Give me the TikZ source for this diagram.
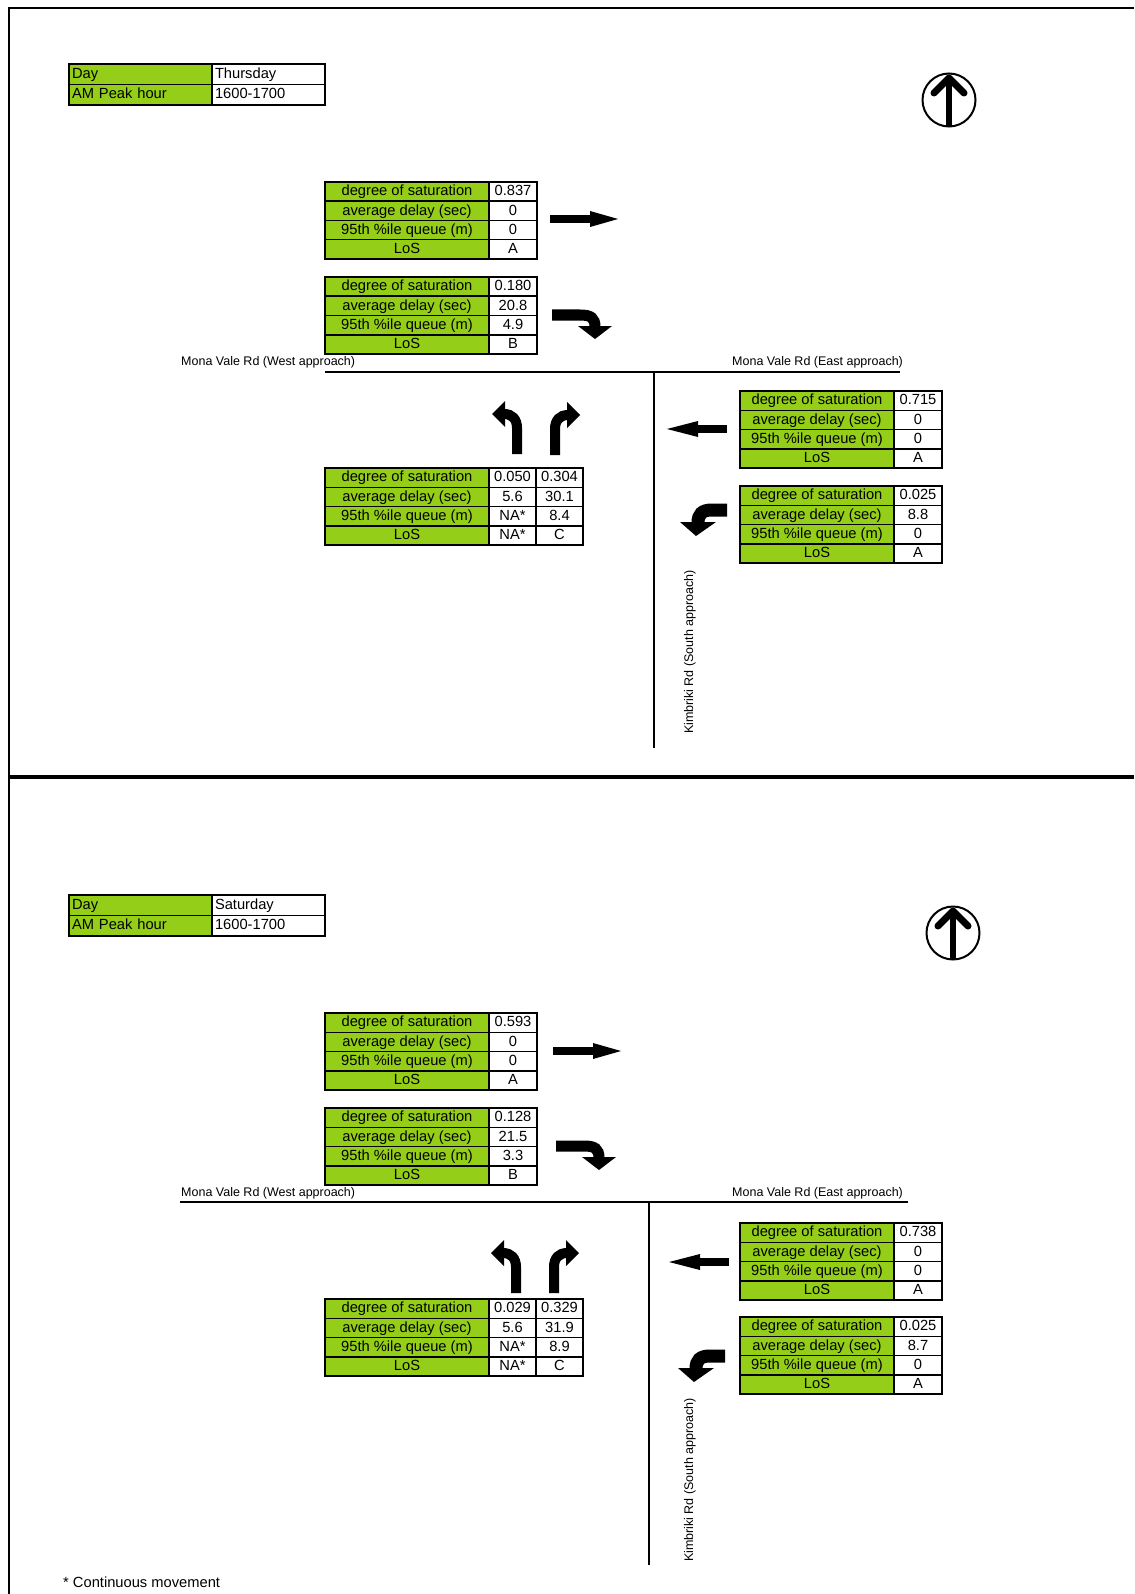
\documentclass[tikz,border=0pt]{standalone}
\usepackage{fontspec}
\setmainfont{Liberation Sans}
\definecolor{cellgreen}{RGB}{148,206,24}
\newcommand{\tabfont}{\fontsize{14.7}{16}\selectfont}
\newcommand{\lblfont}{\fontsize{12.5}{14}\selectfont}
\tikzset{
  cellbase/.style={draw=black, line width=1.5pt, anchor=north west, minimum height=19.25pt, inner sep=0pt, outer sep=0pt, font=\tabfont, text height=10.5pt, text depth=2.2pt},
  gcell/.style={cellbase, fill=cellgreen},
  wcell/.style={cellbase, fill=white, minimum width=48pt},
  w2cell/.style={cellbase, fill=white, minimum width=47pt},
  daycell/.style={draw=black, line width=1.5pt, anchor=north west, minimum height=20.5pt, inner xsep=3pt, inner ysep=0pt, outer sep=0pt, font=\tabfont, text width=#1, align=left, text height=10.5pt, text depth=2.2pt},
  roadlabel/.style={font=\lblfont, inner sep=0pt},
  road/.style={line width=2.6pt},
  frameline/.style={line width=2.5pt},
}
% 4-row movement table with one value column
\newcommand{\movtab}[8]{%
  \node[gcell, minimum width=#4pt] (#1-a) at (#2,#3) {degree of saturation};
  \node[gcell, minimum width=#4pt] (#1-b) at (#2,{#3+19.25}) {average delay (sec)};
  \node[gcell, minimum width=#4pt] (#1-c) at (#2,{#3+38.5}) {95th \%ile queue (m)};
  \node[gcell, minimum width=#4pt] (#1-d) at (#2,{#3+57.75}) {LoS};
  \node[wcell] (#1-va) at ({#2+#4},#3) {#5};
  \node[wcell] (#1-vb) at ({#2+#4},{#3+19.25}) {#6};
  \node[wcell] (#1-vc) at ({#2+#4},{#3+38.5}) {#7};
  \node[wcell] (#1-vd) at ({#2+#4},{#3+57.75}) {#8};
}
% south table, two value columns
\newcommand{\southtab}[3]{%
  \node[gcell, minimum width=164pt] (#1-a) at (325,#2) {degree of saturation};
  \node[gcell, minimum width=164pt] (#1-b) at (325,{#2+19.25}) {average delay (sec)};
  \node[gcell, minimum width=164pt] (#1-c) at (325,{#2+38.5}) {95th \%ile queue (m)};
  \node[gcell, minimum width=164pt] (#1-d) at (325,{#2+57.75}) {LoS};
  \node[w2cell] (#1-la) at (489,#2) {#3};
  \node[w2cell] (#1-lb) at (489,{#2+19.25}) {5.6};
  \node[w2cell] (#1-lc) at (489,{#2+38.5}) {NA*};
  \node[w2cell] (#1-ld) at (489,{#2+57.75}) {NA*};
}
\newcommand{\southright}[5]{%
  \node[w2cell] (#1-ra) at (536,#2) {#3};
  \node[w2cell] (#1-rb) at (536,{#2+19.25}) {#4};
  \node[w2cell] (#1-rc) at (536,{#2+38.5}) {#5};
  \node[w2cell] (#1-rd) at (536,{#2+57.75}) {C};
}
\newcommand{\daytab}[3]{%
  \node[daycell=137pt, fill=cellgreen] (#1-k1) at (69,#2) {Day};
  \node[daycell=137pt, fill=cellgreen] (#1-k2) at (69,{#2+20.5}) {AM Peak hour};
  \node[daycell=107pt, fill=white] (#1-v1) at (212,#2) {#3};
  \node[daycell=107pt, fill=white] (#1-v2) at (212,{#2+20.5}) {1600-1700};
}
\newcommand{\northarrow}[3]{%
  \node[circle, draw, line width=2pt, minimum size=53pt, inner sep=0pt] (#1) at (#2,#3) {};
  \draw[line width=6.5pt] (#2,{#3+26}) -- (#2,{#3-21});
  \draw[line width=7pt, line cap=round, line join=round] ({#2-15},{#3-7}) -- (#2,{#3-22}) -- ({#2+15},{#3-7});
}
% eastbound through arrow: tail x, centre y
\newcommand{\arrE}[2]{%
  \fill (#1,{#2-4}) rectangle ({#1+42},{#2+4});
  \fill ({#1+40},{#2-8}) -- ({#1+68},#2) -- ({#1+40},{#2+8}) -- cycle;
}
% westbound through arrow: tip x, centre y
\newcommand{\arrW}[2]{%
  \fill ({#1+28},{#2-4}) rectangle ({#1+60},{#2+4});
  \fill ({#1+31},{#2-8}) -- (#1,#2) -- ({#1+31},{#2+8}) -- cycle;
}
% eastbound right turn (turning south): top-left reference
\newcommand{\arrET}[2]{%
  \draw[line width=11pt] (#1,{#2+6}) -- ({#1+28},{#2+6}) .. controls ({#1+39},{#2+6}) and ({#1+43},{#2+9}) .. ({#1+43},{#2+18});
  \fill ({#1+26},{#2+17}) -- ({#1+60},{#2+17}) -- ({#1+43},{#2+30}) -- cycle;
}
% westbound left turn (turning south): top-right reference
\newcommand{\arrWT}[2]{%
  \draw[line width=13pt] (#1,{#2+7}) -- ({#1-15},{#2+7}) .. controls ({#1-25},{#2+7}) and ({#1-29},{#2+11}) .. ({#1-29},{#2+20});
  \fill ({#1-47},{#2+19}) -- ({#1-11},{#2+19}) -- ({#1-31},{#2+33}) -- cycle;
}
% south approach left turn: shaft bottom centre
\newcommand{\arrSL}[2]{%
  \draw[line width=10pt] (#1,#2) -- (#1,{#2-26}) .. controls (#1,{#2-35}) and ({#1-5},{#2-40}) .. ({#1-13},{#2-40});
  \fill ({#1-12},{#2-53}) -- ({#1-25},{#2-40}) -- ({#1-12},{#2-27}) -- cycle;
}
% south approach right turn: shaft bottom centre
\newcommand{\arrSR}[2]{%
  \draw[line width=10pt] (#1,#2) -- (#1,{#2-26}) .. controls (#1,{#2-35}) and ({#1+5},{#2-40}) .. ({#1+13},{#2-40});
  \fill ({#1+12},{#2-53}) -- ({#1+25},{#2-40}) -- ({#1+12},{#2-27}) -- cycle;
}
\begin{document}
\begin{tikzpicture}[x=1pt,y=-1pt]
\useasboundingbox[fill=white] (0,0) rectangle (1134,1594);
% frame
\draw[frameline] (9,1594) -- (9,8) -- (1134,8);
\draw[line width=3.5pt] (9,777) -- (1134,777);

% ================= upper (Thursday) =================
\daytab{dt1}{64}{Thursday}
\northarrow{na1}{949}{100}
\movtab{we1}{325}{182}{164}{0.837}{0}{0}{A}
\movtab{wr1}{325}{277}{164}{0.180}{20.8}{4.9}{B}
\arrE{550}{219}
\arrET{552}{309}
\node[roadlabel, anchor=west] (wlab1) at (181,362) {Mona Vale Rd (West approach)};
\node[roadlabel, anchor=west] (elab1) at (732,362) {Mona Vale Rd (East approach)};
\draw[road] (325,372) -- (900,372);
\draw[road] (654,372) -- (654,748);
\movtab{et1}{740}{391}{154}{0.715}{0}{0}{A}
\movtab{el1}{740}{486}{154}{0.025}{8.8}{0}{A}
\arrW{667}{429}
\arrWT{727}{503}
\southtab{st1}{468}{0.050}
\southright{st1}{468}{0.304}{30.1}{8.4}
\arrSL{517}{454}
\arrSR{555}{455}
\node[roadlabel, rotate=90] (slab1) at (690,652) {Kimbriki Rd (South approach)};

% ================= lower (Saturday) =================
\daytab{dt2}{895}{Saturday}
\northarrow{na2}{953}{933}
\movtab{we2}{325}{1013}{164}{0.593}{0}{0}{A}
\movtab{wr2}{325}{1108}{164}{0.128}{21.5}{3.3}{B}
\arrE{553}{1051}
\arrET{556}{1140}
\node[roadlabel, anchor=west] (wlab2) at (181,1193) {Mona Vale Rd (West approach)};
\node[roadlabel, anchor=west] (elab2) at (732,1193) {Mona Vale Rd (East approach)};
\draw[road] (180,1202) -- (908,1202);
\draw[road] (649,1202) -- (649,1565);
\movtab{et2}{740}{1223}{154}{0.738}{0}{0}{A}
\movtab{el2}{740}{1317}{154}{0.025}{8.7}{0}{A}
\arrW{669}{1262}
\arrWT{725}{1349}
\southtab{st2}{1299}{0.029}
\southright{st2}{1299}{0.329}{31.9}{8.9}
\arrSL{516}{1293}
\arrSR{554}{1293}
\node[roadlabel, rotate=90] (slab2) at (690,1480) {Kimbriki Rd (South approach)};

\node[anchor=west, font=\tabfont, inner sep=0pt] (foot) at (63,1582) {* Continuous movement};
\end{tikzpicture}
\end{document}
